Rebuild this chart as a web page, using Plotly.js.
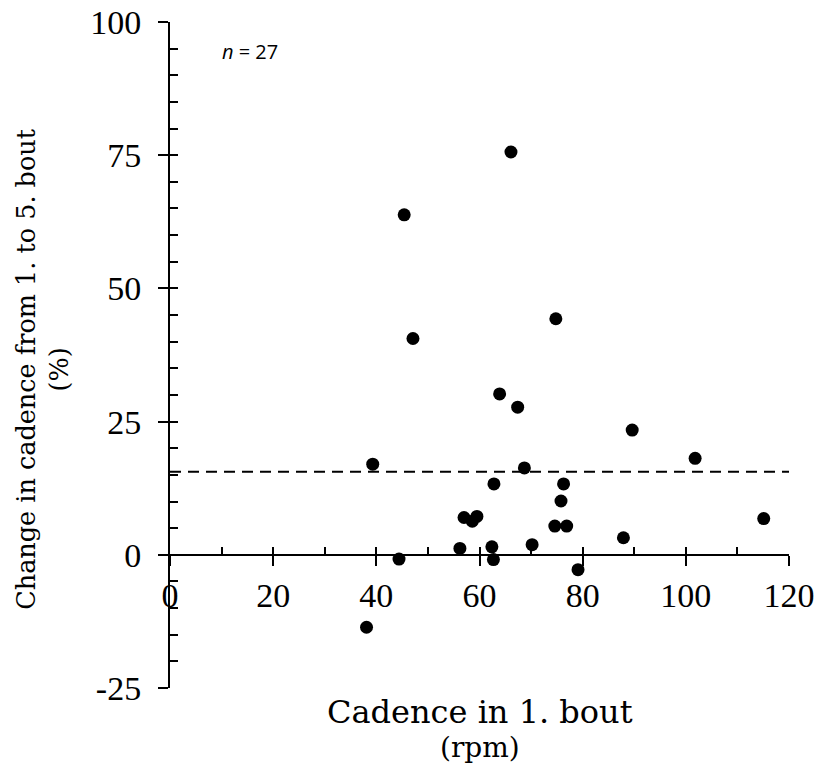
<!DOCTYPE html>
<html>
<head>
<meta charset="utf-8">
<script src="https://cdn.plot.ly/plotly-3.0.1.min.js"></script>
<style>html,body{margin:0;padding:0;background:#fff;}#chart{width:818px;height:768px;}</style>
</head>
<body>
<div id="chart"></div>
<script>
// Cadence in 1. bout (rpm)
const cadenceBout1 = [38.1, 39.3, 44.4, 45.4, 47.1, 56.2, 57.0, 58.6, 59.5, 62.4, 62.7, 62.8, 63.9, 66.1,
  67.4, 68.7, 70.2, 74.8, 74.6, 75.8, 76.3, 76.9, 79.1, 87.9, 89.6, 101.8, 115.1];
// Change in cadence from 1. to 5. bout (%)
const cadenceChange = [-13.6, 17.0, -0.8, 63.8, 40.6, 1.2, 7.0, 6.3, 7.2, 1.5, -0.9, 13.3, 30.2, 75.6,
  27.7, 16.3, 1.9, 44.3, 5.4, 10.1, 13.3, 5.4, -2.8, 3.2, 23.4, 18.1, 6.8];
// Mean change (dashed reference line)
const meanChange = 15.6;
const meanLineX = [0, 120];
const xTickVals = [0, 20, 40, 60, 80, 100, 120];
const xTickText = ['0', '20', '40', '60', '80', '100', '120'];
const yTickVals = [-25, 0, 25, 50, 75, 100];
const yTickText = ['-25', '0', '25', '50', '75', '100'];
const sampleLabel = '<i>n</i> = 27';
const xTitleLine1 = 'Cadence in 1. bout';
const xTitleLine2 = '(rpm)';
const yTitle = 'Change in cadence from 1. to 5. bout<br>(%)';

const tickSerif = "'Liberation Serif', 'Times New Roman', serif";
const titleSerif = "'DejaVu Serif', serif";

const traces = [
  {
    x: meanLineX, y: [meanChange, meanChange], type: 'scatter', mode: 'lines',
    line: {color: '#000', width: 2, dash: '11px,7px'}, hoverinfo: 'skip', showlegend: false
  },
  {
    x: cadenceBout1, y: cadenceChange, type: 'scatter', mode: 'markers',
    marker: {color: '#000', size: 13}, showlegend: false
  },
  // invisible carrier so the overlaid minor-tick axes are drawn
  {
    x: meanLineX, y: [meanChange, meanChange], xaxis: 'x2', yaxis: 'y2', type: 'scatter', mode: 'markers',
    marker: {opacity: 0, size: 1}, hoverinfo: 'skip', showlegend: false
  }
];

const layout = {
  width: 818, height: 768,
  margin: {l: 170, r: 29, t: 22, b: 80},
  paper_bgcolor: '#fff', plot_bgcolor: 'rgba(0,0,0,0)',
  showlegend: false,
  xaxis: {
    range: [0, 120], anchor: 'free', position: 0.2,
    showline: true, linecolor: '#000', linewidth: 2,
    showgrid: false, zeroline: false,
    tickmode: 'array', tickvals: xTickVals, ticktext: xTickText,
    ticks: 'outside', ticklen: 10, tickwidth: 2, tickcolor: '#000',
    tickfont: {family: tickSerif, size: 34, color: '#000'}
  },
  xaxis2: {
    range: [0, 120], overlaying: 'x', anchor: 'free', position: 0.2,
    showline: false, showgrid: false, zeroline: false,
    tickmode: 'linear', dtick: 10, tick0: 0, ticks: 'inside', ticklen: 8, tickwidth: 2, tickcolor: '#000',
    showticklabels: false
  },
  yaxis: {
    range: [-25, 100], anchor: 'x',
    showline: true, linecolor: '#000', linewidth: 2,
    showgrid: false, zeroline: false,
    tickmode: 'array', tickvals: yTickVals, ticktext: yTickText,
    ticks: 'outside', ticklen: 10, tickwidth: 2, tickcolor: '#000',
    ticklabelstandoff: 10,
    tickfont: {family: tickSerif, size: 34, color: '#000'}
  },
  yaxis2: {
    range: [-25, 100], overlaying: 'y', anchor: 'x2', side: 'left',
    showline: false, showgrid: false, zeroline: false,
    tickmode: 'linear', dtick: 5, tick0: 0, ticks: 'inside', ticklen: 8, tickwidth: 2, tickcolor: '#000',
    showticklabels: false
  },
  annotations: [
    {text: sampleLabel, xref: 'paper', yref: 'paper', x: 0.08, y: 0.955,
     xanchor: 'left', yanchor: 'middle', showarrow: false,
     font: {family: "'Open Sans', sans-serif", size: 20, color: '#000'}},
    {text: xTitleLine1, xref: 'paper', yref: 'paper', x: 0.5, y: -0.036,
     xanchor: 'center', yanchor: 'middle', showarrow: false,
     font: {family: titleSerif, size: 32, color: '#000'}},
    {text: xTitleLine2, xref: 'paper', yref: 'paper', x: 0.5, y: -0.090,
     xanchor: 'center', yanchor: 'middle', showarrow: false,
     font: {family: titleSerif, size: 28, color: '#000'}},
    {text: yTitle, xref: 'paper', yref: 'paper', x: -0.206, y: 0.48, textangle: -90,
     xanchor: 'center', yanchor: 'middle', showarrow: false,
     font: {family: titleSerif, size: 25.5, color: '#000'}}
  ]
};

Plotly.newPlot('chart', traces, layout, {displayModeBar: false, staticPlot: true});
</script>
</body>
</html>
